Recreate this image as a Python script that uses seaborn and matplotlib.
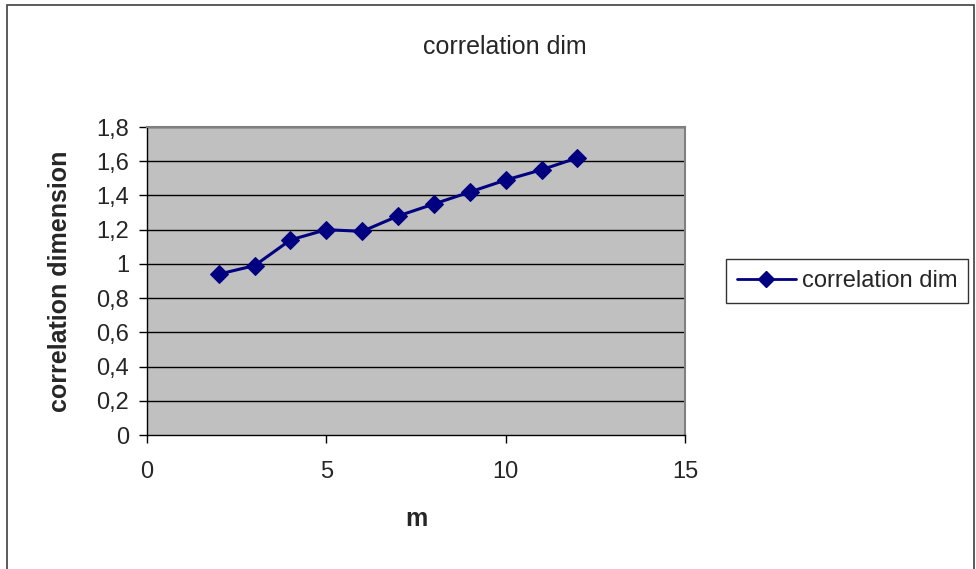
import matplotlib
matplotlib.use("Agg")
import matplotlib.pyplot as plt
import seaborn as sns
import pandas as pd
from matplotlib.patches import Rectangle
from matplotlib.lines import Line2D

m_values = [2, 3, 4, 5, 6, 7, 8, 9, 10, 11, 12]
corr_dim = [0.94, 0.99, 1.14, 1.20, 1.19, 1.28, 1.35, 1.42, 1.49, 1.55, 1.62]
series_name = "correlation dim"
y_ticks = [0, 0.2, 0.4, 0.6, 0.8, 1.0, 1.2, 1.4, 1.6, 1.8]
y_tick_labels = ["0", "0,2", "0,4", "0,6", "0,8", "1", "1,2", "1,4", "1,6", "1,8"]
x_ticks = [0, 5, 10, 15]
x_tick_labels = ["0", "5", "10", "15"]

df = pd.DataFrame({"m": m_values, "dim": corr_dim})

sns.set_style("white")
plt.rcParams["font.family"] = ["Liberation Sans", "DejaVu Sans"]

W, H = 976, 569
fig = plt.figure(figsize=(W / 100, H / 100), dpi=100)
ax = fig.add_axes([147 / W, (H - 435) / H, 538 / W, 308 / H])
ax.set_facecolor("#C0C0C0")

sns.lineplot(data=df, x="m", y="dim", ax=ax, color="#000080", linewidth=2.2,
             marker="D", markersize=9, markeredgecolor="#000080",
             markerfacecolor="#000080", legend=False, zorder=5)

ax.set_xlim(0, 15)
ax.set_ylim(0, 1.8)
ax.set_yticks(y_ticks)
ax.set_yticklabels(y_tick_labels, fontsize=17)
ax.set_xticks(x_ticks)
ax.set_xticklabels(x_tick_labels, fontsize=17)
for yv in y_ticks[1:]:
    ax.axhline(yv, color="black", linewidth=1, zorder=1)

ax.tick_params(axis="both", direction="out", length=6, width=1, color="black",
               left=True, bottom=True)
ax.tick_params(axis="y", pad=7)
ax.tick_params(axis="x", pad=13)
for s in ["top", "right"]:
    ax.spines[s].set_color("#808080")
    ax.spines[s].set_linewidth(1.5)
for s in ["left", "bottom"]:
    ax.spines[s].set_color("black")
    ax.spines[s].set_linewidth(1)

ax.set_xlabel("m", fontsize=18, fontweight="bold", labelpad=17)
ax.set_ylabel("correlation dimension", fontsize=18, fontweight="bold", labelpad=17)

fig.text(505 / W, 1 - 47 / H, series_name, fontsize=18, ha="center", va="center")

handle = Line2D([0], [0], color="#000080", linewidth=2, marker="D",
                markersize=8, markerfacecolor="#000080", markeredgecolor="#000080")
leg = fig.legend([handle], [series_name], loc="center",
                 bbox_to_anchor=(847 / W, 1 - 281 / H), fontsize=17,
                 frameon=True, fancybox=False, handlelength=2.5,
                 borderpad=0.45, handletextpad=0.25, borderaxespad=0)
leg.get_frame().set_edgecolor("black")
leg.get_frame().set_linewidth(1)

fig.add_artist(Rectangle((7 / W, -0.1), (974 - 7) / W, 1.1 - 5 / H,
                         transform=fig.transFigure, fill=False,
                         edgecolor="#404040", linewidth=1.2))

fig.savefig("out.png", dpi=100)
